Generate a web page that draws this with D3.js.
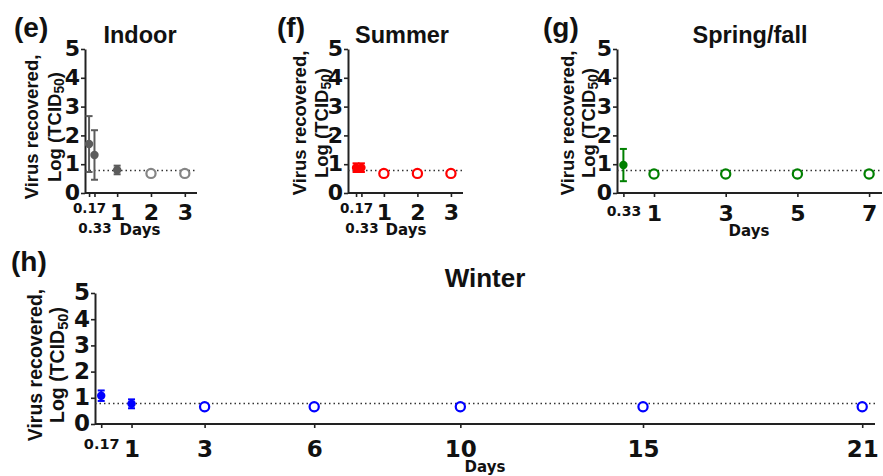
<!DOCTYPE html>
<html>
<head>
<meta charset="utf-8">
<script src="https://cdn.jsdelivr.net/npm/d3@7"></script>
<style>
  html, body { margin: 0; padding: 0; background: #fff; }
  svg { display: block; }
  text { font-family: "Liberation Sans", Arial, sans-serif; font-weight: bold; fill: #111; }
</style>
</head>
<body>
<svg id="chart" width="883" height="476"></svg>
<script>
// ---------------- data ----------------
const yTicks = [0, 1, 2, 3, 4, 5];
const detectionLimit = 0.78;

const indoorDays = [0.17, 0.33, 1, 2, 3];
const indoorLog = [1.70, 1.32, 0.80, 0.68, 0.68];
const indoorErr = [0.97, 0.86, 0.15, 0, 0];
const indoorDetected = [true, true, true, false, false];
const indoorTicks = [0.17, 0.33, 1, 2, 3];

const summerDays = [0.17, 0.33, 1, 2, 3];
const summerLog = [0.88, 0.88, 0.68, 0.68, 0.68];
const summerErr = [0.15, 0.15, 0, 0, 0];
const summerDetected = [true, true, false, false, false];
const summerTicks = [0.17, 0.33, 1, 2, 3];

const springDays = [0.33, 1, 3, 5, 7];
const springLog = [0.97, 0.66, 0.66, 0.66, 0.66];
const springErr = [0.56, 0, 0, 0, 0];
const springDetected = [true, false, false, false, false];
const springTicks = [0.33, 1, 3, 5, 7];

const winterDays = [0.17, 1, 3, 6, 10, 15, 21];
const winterLog = [1.08, 0.77, 0.66, 0.66, 0.66, 0.66, 0.66];
const winterErr = [0.2, 0.17, 0, 0, 0, 0, 0];
const winterDetected = [true, true, false, false, false, false, false];
const winterTicks = [0.17, 1, 3, 6, 10, 15, 21];

const panelLetters = ["(e)", "(f)", "(g)", "(h)"];
const panelTitles = ["Indoor", "Summer", "Spring/fall", "Winter"];

// ---------------- layout ----------------
const DIGIT_FONT = "'DejaVu Sans', Verdana, sans-serif";
const panels = [
  { letter: panelLetters[0], title: panelTitles[0], days: indoorDays, log: indoorLog, err: indoorErr, det: indoorDetected, ticks: indoorTicks,
    color: "#5c5c5c", openColor: "#858585",
    xDomain: [0.05, 3.36], xRange: [85, 197], yRange: [193, 49],
    letterPos: [14, 37], titlePos: [140, 43], titleFont: 23.5, labelFont: 18.5, labelX: [38, 61], labelCY: 127,
    yTickFont: 22, xTickFont: 22, smallFont: 13.5, bigY: 11, smallY: 10, lowY: 30,
    lowTicks: [0.33], daysX: 140, daysY: 235 },
  { letter: panelLetters[1], title: panelTitles[1], days: summerDays, log: summerLog, err: summerErr, det: summerDetected, ticks: summerTicks,
    color: "#ff0000", openColor: "#ff0000",
    xDomain: [-0.07, 3.36], xRange: [348, 463], yRange: [193, 49],
    letterPos: [277, 37], titlePos: [402, 43], titleFont: 23.5, labelFont: 18.5, labelX: [306, 328], labelCY: 123,
    yTickFont: 22, xTickFont: 22, smallFont: 13.5, bigY: 11, smallY: 10, lowY: 30,
    lowTicks: [0.33], daysX: 406, daysY: 235 },
  { letter: panelLetters[2], title: panelTitles[2], days: springDays, log: springLog, err: springErr, det: springDetected, ticks: springTicks,
    color: "#008000", openColor: "#008000",
    xDomain: [0.19, 1, 7.36], xRange: [617, 654, 882], yRange: [193, 49],
    letterPos: [543, 37], titlePos: [750, 43], titleFont: 23.5, labelFont: 18.5, labelX: [574, 595], labelCY: 123,
    yTickFont: 22, xTickFont: 22, smallFont: 14, bigY: 12, smallY: 13, lowY: 30,
    lowTicks: [], daysX: 749, daysY: 236 },
  { letter: panelLetters[3], title: panelTitles[3], days: winterDays, log: winterLog, err: winterErr, det: winterDetected, ticks: winterTicks,
    color: "#0000ff", openColor: "#0000ff",
    xDomain: [0, 21.35], xRange: [95, 875], yRange: [424, 293],
    letterPos: [11, 271], titlePos: [485, 287], titleFont: 26, labelFont: 19.5, labelX: [42, 64], labelCY: 365,
    yTickFont: 23, xTickFont: 23, smallFont: 14.5, bigY: 16, smallY: 14, lowY: 30,
    lowTicks: [], daysX: 485, daysY: 472 }
];

const svg = d3.select("#chart");
const fmtTick = d => (d < 1 ? d3.format(".2f")(d) : String(d));

panels.forEach(p => {
  const g = svg.append("g");
  const x = d3.scaleLinear().domain(p.xDomain).range(p.xRange);
  const y = d3.scaleLinear().domain([0, 5]).range(p.yRange);
  const x0 = p.xRange[0], x1 = p.xRange[p.xRange.length - 1];

  // panel letter and title
  g.append("text").attr("x", p.letterPos[0]).attr("y", p.letterPos[1])
    .style("font-size", "28px").text(p.letter);
  g.append("text").attr("x", p.titlePos[0]).attr("y", p.titlePos[1])
    .attr("text-anchor", "middle").style("font-size", p.titleFont + "px").text(p.title);

  // y axis
  const ya = g.append("g").attr("transform", `translate(${x0},0)`)
    .call(d3.axisLeft(y).tickValues(yTicks).tickSize(4).tickSizeOuter(0).tickPadding(1).tickFormat(d3.format("d")));
  ya.select(".domain").attr("stroke", "#222").attr("stroke-width", 2);
  ya.selectAll(".tick line").attr("stroke", "#222").attr("stroke-width", 1.6);
  ya.selectAll(".tick text").style("font-size", p.yTickFont + "px").style("font-family", DIGIT_FONT)
    .style("font-weight", "bold").attr("fill", "#111").attr("dy", "0.3em");

  // x axis
  const xa = g.append("g").attr("transform", `translate(0,${p.yRange[0]})`)
    .call(d3.axisBottom(x).tickValues(p.ticks).tickSize(4).tickSizeOuter(0).tickPadding(7).tickFormat(fmtTick));
  xa.select(".domain").attr("stroke", "#222").attr("stroke-width", 2)
    .attr("d", `M${x0},0H${x1}`);
  xa.selectAll(".tick line").attr("stroke", "#222").attr("stroke-width", 1.6);
  xa.selectAll(".tick text")
    .style("font-family", DIGIT_FONT).style("font-weight", "bold").attr("fill", "#111")
    .style("font-size", d => (d < 1 ? p.smallFont + "px" : p.xTickFont + "px"))
    .attr("y", d => (d < 1 ? (p.lowTicks.includes(d) ? p.lowY : p.smallY) : p.bigY))
    .attr("dy", "0.73em");

  // "Days"
  g.append("text").attr("x", p.daysX).attr("y", p.daysY).attr("text-anchor", "middle")
    .style("font-family", DIGIT_FONT).style("font-size", "15px").text("Days");

  // y label (two lines, rotated)
  g.append("text").attr("transform", `translate(${p.labelX[0]},${p.labelCY}) rotate(-90)`)
    .attr("text-anchor", "middle").style("font-size", p.labelFont + "px").text("Virus recovered,");
  const lab2 = g.append("text").attr("transform", `translate(${p.labelX[1]},${p.labelCY}) rotate(-90)`)
    .attr("text-anchor", "middle").style("font-size", p.labelFont + "px");
  lab2.append("tspan").text("Log (TCID");
  lab2.append("tspan").attr("dy", "0.25em").style("font-size", "0.75em").text("50");
  lab2.append("tspan").attr("dy", "-0.19em").text(")");

  // detection limit
  g.append("line").attr("x1", x0).attr("x2", x1)
    .attr("y1", y(detectionLimit)).attr("y2", y(detectionLimit))
    .attr("stroke", "#333").attr("stroke-width", 1.5).attr("stroke-dasharray", "1.5,3");

  const pts = p.days.map((d, i) => ({ d, v: p.log[i], e: p.err[i], det: p.det[i] }));

  // error bars
  const eb = g.selectAll(".eb").data(pts.filter(q => q.det && q.e > 0)).enter().append("g")
    .attr("stroke", p.color).attr("stroke-width", 2);
  eb.append("line").attr("x1", q => x(q.d)).attr("x2", q => x(q.d))
    .attr("y1", q => y(q.v - q.e)).attr("y2", q => y(q.v + q.e));
  eb.append("line").attr("x1", q => x(q.d) - 3.5).attr("x2", q => x(q.d) + 3.5)
    .attr("y1", q => y(q.v - q.e)).attr("y2", q => y(q.v - q.e));
  eb.append("line").attr("x1", q => x(q.d) - 3.5).attr("x2", q => x(q.d) + 3.5)
    .attr("y1", q => y(q.v + q.e)).attr("y2", q => y(q.v + q.e));

  // points
  g.selectAll(".pt").data(pts).enter().append("circle")
    .attr("cx", q => x(q.d)).attr("cy", q => y(q.v))
    .attr("r", q => (q.det ? 4.2 : 4.6))
    .attr("fill", q => (q.det ? p.color : "#fff"))
    .attr("stroke", q => (q.det ? "none" : p.openColor))
    .attr("stroke-width", 2.2);
});
</script>
</body>
</html>
